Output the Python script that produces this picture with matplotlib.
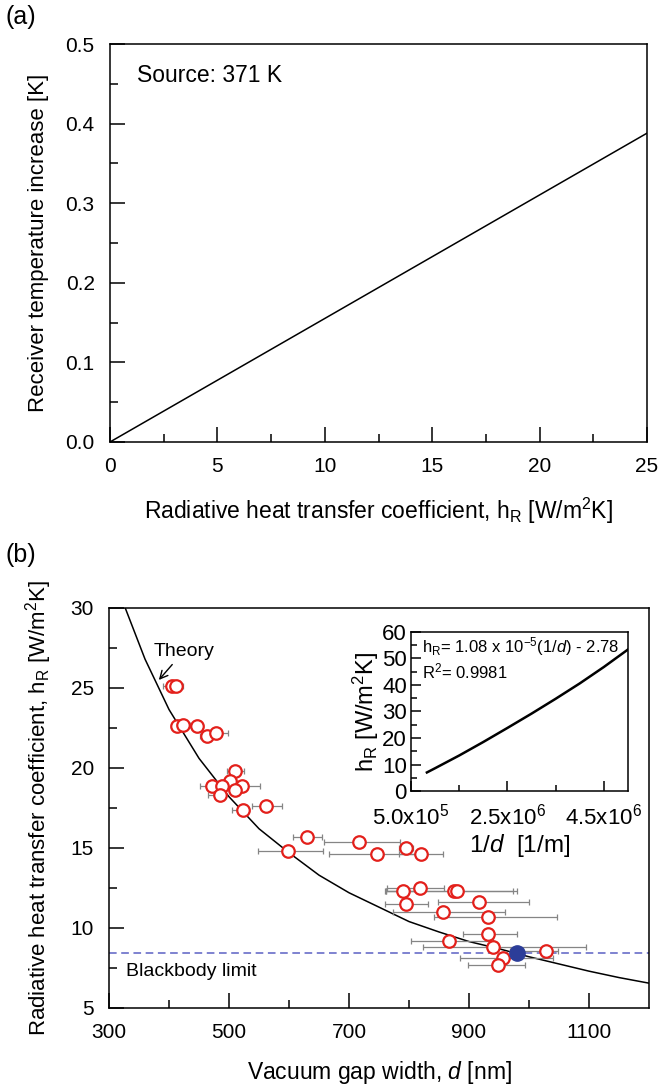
import matplotlib
matplotlib.use("Agg")
import matplotlib.pyplot as plt
from matplotlib.ticker import MultipleLocator, FixedLocator, FormatStrFormatter

plt.rcParams['font.family'] = ['Liberation Sans', 'DejaVu Sans']
plt.rcParams['mathtext.fontset'] = 'custom'
plt.rcParams['mathtext.rm'] = 'Liberation Sans'
plt.rcParams['mathtext.it'] = 'Liberation Sans:italic'
plt.rcParams['mathtext.bf'] = 'Liberation Sans:bold'

# ---- panel (a) data
h_a = [0, 25]
dT_a = [0.0, 0.388]

# ---- panel (b) theory curve
d_theory = [327, 360, 400, 450, 500, 550, 600, 650, 700, 750, 800, 850, 900, 950, 1000, 1050, 1100, 1150, 1200]
h_theory = [30.0, 26.8, 23.65, 20.6, 18.2, 16.2, 14.7, 13.3, 12.2, 11.3, 10.4, 9.75, 9.15, 8.7, 8.2, 7.75, 7.3, 6.9, 6.55]

# measured points: gap [nm], h_R, x error low / high [nm]
d_meas = [405, 412, 413, 423, 447, 463, 478, 510, 502, 472, 488, 522, 510, 485, 523, 562,
          630, 717, 598, 747, 795, 820, 790, 818, 875, 880, 795, 917, 857, 932, 932, 867,
          940, 957, 948, 1028]
h_meas = [25.1, 25.1, 22.6, 22.7, 22.6, 22.0, 22.2, 19.8, 19.2, 18.9, 18.9, 18.9, 18.6, 18.3, 17.4, 17.6,
          15.7, 15.4, 14.8, 14.6, 15.0, 14.6, 12.3, 12.5, 12.3, 12.3, 11.5, 11.6, 11.0, 10.7, 9.6, 9.2,
          8.8, 8.1, 7.7, 8.55]
xerr_lo = [15, 15, 10, 12, 10, 12, 20, 13, 10, 20, 15, 12, 10, 20, 18, 24,
           23, 59, 50, 80, 12, 37, 28, 55, 115, 119, 35, 69, 84, 90, 42, 64,
           117, 72, 50, 60]
xerr_hi = [15, 12, 12, 12, 10, 12, 20, 15, 10, 10, 15, 30, 10, 10, 10, 26,
           25, 68, 59, 80, 12, 37, 28, 40, 98, 100, 37, 83, 103, 115, 48, 73,
           155, 83, 45, 20]

d_bb = [980]
h_bb = [8.45]
h_blackbody = 8.45

# inset: h_R vs 1/d
inv_d = [8.3e5, 1.0e6, 1.5e6, 2.0e6, 2.5e6, 3.0e6, 3.5e6, 4.0e6, 4.5e6, 5.0e6]
h_inv = [7.0, 8.6, 13.4, 18.5, 23.8, 29.2, 34.8, 40.6, 46.8, 53.4]
inset_ticks = [5e5, 2.5e6, 4.5e6]
inset_ticklabels = [r'5.0x10$^\mathregular{5}$', r'2.5x10$^\mathregular{6}$', r'4.5x10$^\mathregular{6}$']

fig = plt.figure(figsize=(6.58, 10.87), dpi=100)

def style(ax, size=15, major=11, minor=6, pad=11):
    ax.tick_params(which='both', direction='in', top=False, right=False, labelsize=size, width=1.1)
    ax.tick_params(which='major', length=major, pad=pad)
    ax.tick_params(which='minor', length=minor)
    for s in ax.spines.values():
        s.set_linewidth(1.1)

# panel (a)
ax1 = fig.add_axes([0.1672, 0.5934, 0.8161, 0.3661])
ax1.plot(h_a, dT_a, color='black', lw=1.1)
ax1.set_xlim(0, 25)
ax1.set_ylim(0, 0.5)
ax1.xaxis.set_major_locator(MultipleLocator(5))
ax1.xaxis.set_minor_locator(MultipleLocator(2.5))
ax1.yaxis.set_major_locator(MultipleLocator(0.1))
ax1.yaxis.set_minor_locator(MultipleLocator(0.05))
ax1.yaxis.set_major_formatter(FormatStrFormatter('%.1f'))
style(ax1)
ax1.set_xlabel(r'Radiative heat transfer coefficient, h$_\mathregular{R}$ [W/m$^\mathregular{2}$K]', fontsize=16.5, labelpad=14)
ax1.set_ylabel('Receiver temperature increase [K]', fontsize=16, labelpad=12)
ax1.text(1.25, 0.46, 'Source: 371 K', fontsize=16.5, va='center')
fig.text(0.008, 0.984, '(a)', fontsize=18, va='center')

# panel (b)
ax2 = fig.add_axes([0.1657, 0.0727, 0.8207, 0.368])
ax2.plot(d_theory, h_theory, color='black', lw=1.1, zorder=2)
ax2.axhline(h_blackbody, color='#5b60c4', lw=1.1, ls=(0, (5, 3)), zorder=1)
ax2.errorbar(d_meas, h_meas, xerr=[xerr_lo, xerr_hi], fmt='none', ecolor='#858585',
             elinewidth=0.9, capsize=2.5, capthick=0.9, zorder=3)
ax2.plot(d_meas, h_meas, 'o', mfc='white', mec='#e3201b', mew=1.6, ms=9, zorder=4)
ax2.plot(d_bb, h_bb, 'o', color='#2c3d99', ms=11, zorder=5)
ax2.set_xlim(300, 1200)
ax2.set_ylim(5, 30)
ax2.xaxis.set_major_locator(FixedLocator([300, 500, 700, 900, 1100]))
ax2.xaxis.set_minor_locator(FixedLocator([400, 600, 800, 1000]))
ax2.yaxis.set_major_locator(MultipleLocator(5))
ax2.yaxis.set_minor_locator(MultipleLocator(2.5))
style(ax2)
ax2.set_xlabel(r'Vacuum gap width, $\it{d}$ [nm]', fontsize=16.5, labelpad=12)
ax2.set_ylabel(r'Radiative heat transfer coefficient, h$_\mathregular{R}$ [W/m$^\mathregular{2}$K]', fontsize=16, labelpad=12)
ax2.annotate('Theory', xy=(383, 25.5), xytext=(374, 27.3), fontsize=14, va='center',
             arrowprops=dict(arrowstyle='->', color='black', lw=1.0, shrinkA=2, shrinkB=0))
ax2.text(328, 7.25, 'Blackbody limit', fontsize=14, va='center')
fig.text(0.008, 0.489, '(b)', fontsize=18, va='center')

# inset
ax3 = fig.add_axes([0.6246, 0.2723, 0.3298, 0.1463])
ax3.plot(inv_d, h_inv, color='black', lw=1.8)
ax3.set_xlim(5e5, 5e6)
ax3.set_ylim(0, 60)
ax3.xaxis.set_major_locator(FixedLocator(inset_ticks))
ax3.xaxis.set_minor_locator(FixedLocator([1.5e6, 3.5e6]))
ax3.set_xticklabels(inset_ticklabels)
ax3.yaxis.set_major_locator(MultipleLocator(10))
ax3.yaxis.set_minor_locator(MultipleLocator(5))
style(ax3, size=16, major=7, minor=4, pad=3)
ax3.tick_params(axis='x', which='major', pad=9)
ax3.set_xlabel(r'1/$\it{d}$  [1/m]', fontsize=17.5, labelpad=2)
ax3.set_ylabel(r'h$_\mathregular{R}$ [W/m$^\mathregular{2}$K]', fontsize=17, labelpad=1)
ax3.text(0.05, 0.91, r'h$_\mathregular{R}$= 1.08 x 10$^\mathregular{-5}$(1/$\it{d}$) - 2.78', transform=ax3.transAxes, fontsize=12, va='center')
ax3.text(0.05, 0.75, r'R$^\mathregular{2}$= 0.9981', transform=ax3.transAxes, fontsize=12, va='center')

fig.savefig('out.png', dpi=100)
